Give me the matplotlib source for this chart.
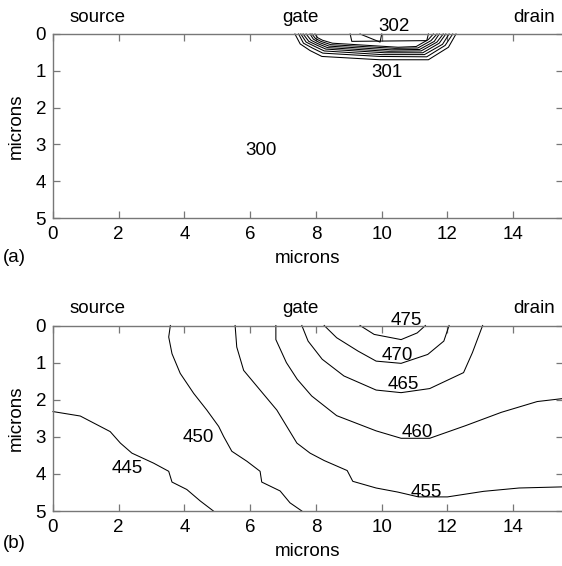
import matplotlib
matplotlib.use("Agg")
import matplotlib.pyplot as plt

plt.rcParams['font.family'] = ['Liberation Sans', 'DejaVu Sans']

# ---------------- data: panel (a) contour lines (microns) ----------------
a_lines_x = [
    [7.36, 7.52, 7.82, 8.18, 9.95, 11.42, 12.03, 12.26],
    [7.47, 7.62, 7.91, 8.21, 9.95, 11.37, 11.93, 12.16],
    [7.54, 7.70, 7.97, 8.25, 10.0, 11.30, 11.85, 12.05],
    [7.61, 7.78, 8.02, 8.30, 10.1, 11.25, 11.75, 11.95],
    [7.70, 7.85, 8.05, 8.35, 10.2, 11.20, 11.68, 11.87],
    [7.82, 7.92, 8.10, 8.40, 10.3, 11.15, 11.60, 11.75],
    [7.88, 7.98, 8.15, 8.45, 10.4, 11.10, 11.50, 11.68],
    [7.97, 8.05, 8.20, 8.50, 10.5, 11.05, 11.42, 11.57],
    [9.04, 9.09, 11.37, 11.42],
    [9.34, 9.95, 10.0],
]
a_lines_y = [
    [0, 0.27, 0.45, 0.61, 0.70, 0.70, 0.36, 0],
    [0, 0.25, 0.39, 0.52, 0.61, 0.62, 0.31, 0],
    [0, 0.22, 0.34, 0.46, 0.56, 0.56, 0.28, 0],
    [0, 0.20, 0.30, 0.41, 0.51, 0.51, 0.25, 0],
    [0, 0.17, 0.26, 0.37, 0.47, 0.46, 0.22, 0],
    [0, 0.14, 0.23, 0.33, 0.43, 0.42, 0.20, 0],
    [0, 0.12, 0.20, 0.29, 0.39, 0.38, 0.18, 0],
    [0, 0.10, 0.17, 0.25, 0.36, 0.34, 0.15, 0],
    [0, 0.20, 0.18, 0],
    [0, 0.22, 0],
]
a_labels = ['302', '301', '300']
a_label_x = [10.38, 10.15, 6.34]
a_label_y = [-0.09, 1.18, 3.29]

# ---------------- data: panel (b) contour lines (microns) ----------------
b_levels = [445, 450, 455, 460, 465, 470, 475]
b_lines_x = [
    [0, 0.83, 1.74, 2.05, 2.40, 3.06, 3.52, 3.62, 4.07, 4.48, 4.88],
    [3.57, 3.52, 3.62, 3.87, 4.28, 4.68, 5.04, 5.19, 5.44, 5.90, 6.30, 6.35, 6.91, 7.21, 7.57],
    [5.54, 5.59, 5.80, 6.30, 6.81, 7.42, 7.82, 8.25, 8.95, 9.12, 9.83, 10.49, 11.12, 12.0, 13.1, 14.18, 15.5],
    [6.78, 6.78, 7.10, 7.43, 7.87, 8.63, 9.83, 10.59, 11.46, 12.55, 13.64, 14.73, 15.5],
    [7.57, 7.76, 8.19, 8.85, 9.83, 10.59, 11.46, 12.49, 12.76, 13.07],
    [8.25, 8.63, 9.28, 9.83, 10.59, 11.40, 11.89, 12.05],
    [9.34, 9.77, 10.59, 11.08, 11.33],
]
b_lines_y = [
    [2.32, 2.44, 2.86, 3.17, 3.44, 3.71, 3.93, 4.22, 4.42, 4.73, 5.0],
    [0, 0.31, 0.76, 1.29, 1.83, 2.28, 2.72, 2.99, 3.39, 3.66, 3.93, 4.22, 4.46, 4.78, 5.0],
    [0, 0.58, 1.21, 1.74, 2.28, 3.17, 3.44, 3.64, 3.91, 4.20, 4.38, 4.49, 4.62, 4.62, 4.47, 4.38, 4.35],
    [0, 0.38, 1.0, 1.45, 1.90, 2.43, 2.84, 3.04, 3.04, 2.70, 2.34, 2.05, 1.97],
    [0, 0.42, 0.91, 1.36, 1.74, 1.81, 1.70, 1.27, 0.73, 0],
    [0, 0.33, 0.69, 0.96, 1.02, 0.78, 0.42, 0],
    [0, 0.24, 0.38, 0.20, 0],
]
b_label_x = [2.26, 4.42, 11.35, 11.07, 10.66, 10.46, 10.76]
b_label_y = [3.98, 3.13, 4.61, 3.00, 1.72, 0.93, -0.01]

# electrode labels
elec_names = ['source', 'gate', 'drain']
elec_x = [1.36, 7.54, 14.64]

x_ticks = [0, 2, 4, 6, 8, 10, 12, 14]
y_ticks = [0, 1, 2, 3, 4, 5]

FS = 13.5
SPINE = '#777777'

W, H = 562, 566
fig = plt.figure(figsize=(W / 100, H / 100), dpi=100)

ax1 = fig.add_axes([53 / W, 1 - 218 / H, 509.5 / W, 184 / H])
ax2 = fig.add_axes([53 / W, 1 - 511 / H, 509.5 / W, 185.5 / H])


def style(ax):
    ax.set_xlim(0, 15.5)
    ax.set_ylim(5, 0)
    ax.set_xticks(x_ticks)
    ax.set_yticks(y_ticks)
    ax.tick_params(direction='in', top=True, right=True, length=5, width=0.9,
                   color=SPINE, labelsize=FS)
    ax.tick_params(axis='x', pad=6)
    ax.tick_params(axis='y', pad=5)
    for s in ax.spines.values():
        s.set_color(SPINE)
        s.set_linewidth(1.0)
    ax.set_xlabel('microns', fontsize=FS, labelpad=5)
    ax.set_ylabel('microns', fontsize=FS, labelpad=8)
    for name, x in zip(elec_names, elec_x):
        ax.text(x, -0.33, name, ha='center', va='baseline', fontsize=FS,
                clip_on=False)


style(ax1)
for xs, ys in zip(a_lines_x, a_lines_y):
    ax1.plot(xs, ys, color='black', lw=0.75, clip_on=False)
for t, x, y in zip(a_labels, a_label_x, a_label_y):
    ax1.text(x, y, t, ha='center', va='baseline', fontsize=FS, clip_on=False)

style(ax2)
for xs, ys in zip(b_lines_x, b_lines_y):
    ax2.plot(xs, ys, color='black', lw=0.75, clip_on=False)
for lev, x, y in zip(b_levels, b_label_x, b_label_y):
    ax2.text(x, y, str(lev), ha='center', va='baseline', fontsize=FS,
             clip_on=False)

fig.text(14 / W, 1 - 257 / H, '(a)', ha='center', va='center', fontsize=FS)
fig.text(14 / W, 1 - 543 / H, '(b)', ha='center', va='center', fontsize=FS)

fig.savefig('out.png', dpi=100)
